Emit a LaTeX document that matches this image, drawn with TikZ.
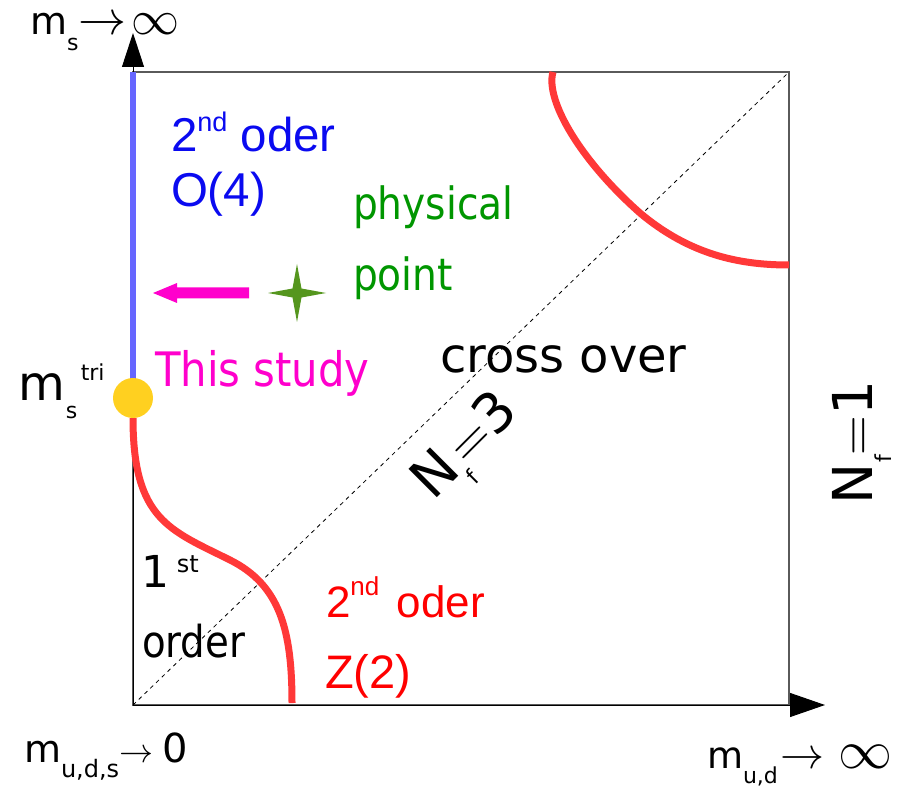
\RequirePackage{fix-cm}
\documentclass[tikz,border=0pt]{standalone}
\usepackage[no-math]{fontspec}
\setmainfont{DejaVu Sans}
\newfontfamily\dvc[FakeStretch=0.88]{DejaVu Sans}
\newfontfamily\lib{Liberation Sans}
\usetikzlibrary{arrows.meta}
\newcommand\fsz[1]{\fontsize{#1}{#1}\selectfont}
\definecolor{boxgray}{RGB}{90,90,90}
\definecolor{redline}{RGB}{255,56,56}
\definecolor{blueline}{RGB}{102,102,255}
\definecolor{yel}{RGB}{255,208,32}
\definecolor{mag}{RGB}{255,0,204}
\definecolor{grn}{RGB}{0,150,0}
\definecolor{starcol}{RGB}{85,150,30}
\definecolor{bluetxt}{RGB}{10,10,240}
\definecolor{redtxt}{RGB}{255,0,0}
\begin{document}
\begin{tikzpicture}[x=1pt,y=-1pt,
  txt/.style={inner sep=0pt,outer sep=0pt,anchor=base west},
  boxline/.style={draw=boxgray,line width=1.1pt},
  diag/.style={draw=black,line width=0.8pt,dash pattern=on 4pt off 4pt},
  redcurve/.style={draw=redline,line width=7pt},
  axisline/.style={draw=black,line width=1pt,-{Triangle[length=34pt,width=22pt]}}]
\useasboundingbox (0,0) rectangle (897,786);
% frame
\coordinate (O) at (133,705);
\coordinate (TL) at (133,72);
\coordinate (TR) at (789,72);
\coordinate (BR) at (789,705);
\coordinate (ytip) at (133,33);
\coordinate (xtip) at (825,705);
\draw[boxline] (O) -- (TL) -- (TR) -- (BR) -- cycle;
\draw[diag] (O) -- (TR);
% axes
\draw[axisline] (O) -- (ytip);
\draw[axisline,-{Triangle[length=35pt,width=24pt]}] (O) -- (xtip);
% transition lines
\draw[redcurve] (133,418) .. controls (133,520) and (170,530) .. (230,560)
                .. controls (280,585) and (292,630) .. (292,703);
\draw[redcurve] (553,72) .. controls (545,100) and (580,160) .. (640,213)
                .. controls (690,255) and (740,265) .. (789,265);
\draw[draw=blueline,line width=6pt] (TL) -- (133,398);
\node[circle,fill=yel,minimum size=40pt,inner sep=0pt] (tri) at (133,398) {};
% star and arrow
\fill[starcol] (297,264) -- (301.5,288.5) -- (326,293) -- (301.5,297.5) -- (297,322)
   -- (292.5,297.5) -- (268,293) -- (292.5,288.5) -- cycle;
\fill[mag] (249,287.5) -- (177,287.5) -- (177,283) -- (153,293) -- (177,303)
   -- (177,298.5) -- (249,298.5) -- cycle;
% labels
\node[txt] (msinf) at (30,35) {\fsz{38}m\raisebox{-16pt}{\fsz{22}s}\fsz{48}$\rightarrow\!\infty$};
\node[txt] (mzero) at (24,762) {\fsz{38}m\raisebox{-15pt}{\fsz{24}u,d,s}\fsz{34}$\rightarrow$\hspace{9pt}\fsz{40}0};
\node[txt] (mud) at (707,768) {\fsz{37}m\raisebox{-15pt}{\fsz{22}u,d}\hspace{3pt}\fsz{44}$\rightarrow$\hspace{14pt}\fsz{54}$\infty$};
\node[txt] (mtri) at (19,400) {\fsz{48}m\makebox[0pt][l]{\hspace{15pt}\raisebox{20pt}{\fsz{22}tri}}\raisebox{-18pt}{\fsz{22}s}};
\node[txt,text=bluetxt] (o4a) at (171,152) {\lib\fsz{47.5}2\raisebox{20pt}{\fsz{27}nd} oder};
\node[txt,text=bluetxt] (o4b) at (171,207) {\lib\fsz{47.5}O(4)};
\node[txt,text=grn] (phys) at (353,220) {\dvc\fsz{44.5}physical};
\node[txt,text=grn] (point) at (353,291) {\dvc\fsz{44.5}point};
\node[txt,text=mag] (study) at (155,386) {\dvc\fsz{47.5}This study};
\node[txt] (cross) at (440,372) {\fsz{48}cross over};
\node[txt] (first) at (141,587) {\fsz{44}1\hspace{8pt}\raisebox{15pt}{\fsz{24}st}};
\node[txt] (order) at (142,657) {\dvc\fsz{44}order};
\node[txt,text=redtxt] (z2a) at (326,617) {\lib\fsz{44}2\raisebox{22pt}{\fsz{26}nd} \hspace{5pt}oder};
\node[txt,text=redtxt] (z2b) at (325,688) {\lib\fsz{47}Z(2)};
\node[txt,rotate=45] (nf3) at (433,501) {\fsz{55}N\raisebox{-19pt}{\fsz{22}f}$=$3};
\node[txt,rotate=90] (nf1) at (872,504) {\fsz{55}N\raisebox{-19pt}{\fsz{22}f}$=$1};
\end{tikzpicture}
\end{document}
